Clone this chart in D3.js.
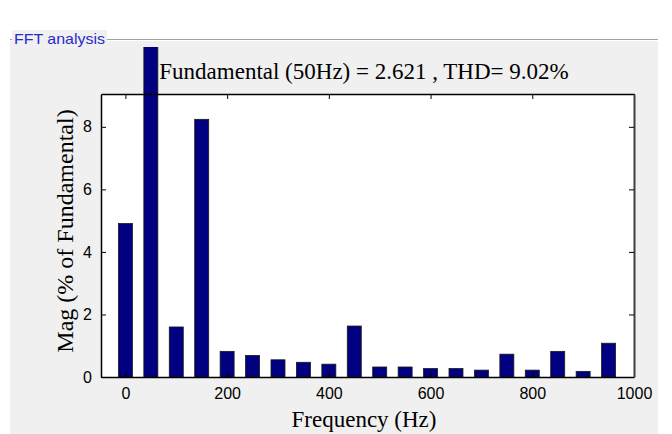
<!DOCTYPE html>
<html><head><meta charset="utf-8">
<script src="https://cdn.jsdelivr.net/npm/d3@7"></script>
<style>
html,body{margin:0;padding:0;background:#fff;}
svg{display:block;}
</style></head>
<body>
<svg id="chart" width="672" height="434"></svg>
<script>
// ---- data ----
const frequencies = [0,50,100,150,200,250,300,350,400,450,500,550,600,650,700,750,800,850,900,950];
const magnitudes  = [4.91,100,1.60,8.24,0.82,0.69,0.55,0.47,0.41,1.63,0.32,0.32,0.27,0.27,0.22,0.73,0.22,0.82,0.18,1.08];
const xTicks = [0,200,400,600,800,1000];
const yTicks = [0,2,4,6,8];
const titleText = "Fundamental (50Hz) = 2.621 , THD= 9.02%";
const xLabel = "Frequency (Hz)";
const yLabel = "Mag (% of Fundamental)";
const panelTitle = "FFT analysis";

const svg = d3.select("#chart");
const W = 672, H = 434;
const panel = {x0: 10, x1: 658, y0: 39};
const plot = {l: 101, r: 634, t: 94, b: 377};

// panel background
svg.append("rect").attr("x", panel.x0).attr("y", panel.y0).attr("width", panel.x1 - panel.x0).attr("height", H - panel.y0).attr("fill", "#f0f0f0");
// etched top border
svg.append("line").attr("x1", panel.x0).attr("x2", panel.x1).attr("y1", panel.y0 + 0.5).attr("y2", panel.y0 + 0.5).attr("stroke", "#a0a0a0");
svg.append("line").attr("x1", panel.x0).attr("x2", panel.x1).attr("y1", panel.y0 + 1.5).attr("y2", panel.y0 + 1.5).attr("stroke", "#ffffff");
// panel title
const pt = svg.append("text").attr("x", 14).attr("y", panel.y0 + 5).attr("font-family", "'Liberation Sans', Arial, sans-serif")
  .attr("font-size", 15).attr("textLength", 91).attr("lengthAdjust", "spacingAndGlyphs").attr("fill", "#2a2acc").text(panelTitle);
const bb = pt.node().getBBox();
svg.insert("rect", "text").attr("x", bb.x - 2).attr("y", bb.y).attr("width", bb.width + 4).attr("height", bb.height).attr("fill", "#f0f0f0");

// scales
const x = d3.scaleLinear().domain([-48, 1000]).range([plot.l, plot.r]);
const y = d3.scaleLinear().domain([0, 9.05]).range([plot.b, plot.t]);

// plot area
svg.append("rect").attr("x", plot.l).attr("y", plot.t).attr("width", plot.r - plot.l).attr("height", plot.b - plot.t).attr("fill", "#ffffff");

// clip for bars (fundamental bar runs above the axes up to the panel)
svg.append("clipPath").attr("id", "barclip").append("rect")
  .attr("x", plot.l).attr("y", 47).attr("width", plot.r - plot.l).attr("height", plot.b - 47);

const step = x(50) - x(0);
const bw = step * 0.55;
svg.append("g").attr("clip-path", "url(#barclip)")
  .selectAll("rect").data(frequencies).join("rect")
  .attr("x", (d) => x(d) - bw / 2)
  .attr("y", (d, i) => y(magnitudes[i]))
  .attr("width", bw)
  .attr("height", (d, i) => y(0) - y(magnitudes[i]))
  .attr("fill", "#000080")
  .attr("stroke", "#1a1a1a").attr("stroke-width", 0.8);

// axes
const fontSans = "'Liberation Sans', Arial, sans-serif";
const xAxis = svg.append("g").attr("transform", `translate(0,${plot.b})`)
  .call(d3.axisBottom(x).tickValues(xTicks).tickSizeInner(-5).tickSizeOuter(0).tickPadding(11).tickFormat(d3.format("d")));
const xAxisTop = svg.append("g").attr("transform", `translate(0,${plot.t})`)
  .call(d3.axisTop(x).tickValues(xTicks).tickSizeInner(-5).tickSizeOuter(0).tickFormat(""));
const yAxis = svg.append("g").attr("transform", `translate(${plot.l},0)`)
  .call(d3.axisLeft(y).tickValues(yTicks).tickSizeInner(-5).tickSizeOuter(0).tickPadding(9).tickFormat(d3.format("d")));
const yAxisR = svg.append("g").attr("transform", `translate(${plot.r},0)`)
  .call(d3.axisRight(y).tickValues(yTicks).tickSizeInner(-5).tickSizeOuter(0).tickFormat(""));

[xAxis, xAxisTop, yAxis, yAxisR].forEach(g => {
  g.selectAll("text").attr("font-family", fontSans).attr("font-size", 16).attr("fill", "#000");
  g.selectAll(".tick line").attr("stroke", "#000");
  g.select(".domain").attr("stroke", "#000").attr("stroke-width", 1.5);
});
yAxisR.select(".domain").attr("stroke", "#404040").attr("stroke-width", 2);

// labels
const fontSerif = "'Liberation Serif', 'Times New Roman', serif";
svg.append("text").attr("x", 364).attr("y", 79).attr("text-anchor", "middle")
  .attr("font-family", fontSerif).attr("font-size", 23).attr("fill", "#000").text(titleText);
svg.append("text").attr("x", 364).attr("y", 427).attr("text-anchor", "middle")
  .attr("font-family", fontSerif).attr("font-size", 23).attr("fill", "#000").text(xLabel);
svg.append("text").attr("transform", `translate(73,231) rotate(-90)`).attr("text-anchor", "middle")
  .attr("font-family", fontSerif).attr("font-size", 24).attr("fill", "#000").text(yLabel);
</script>
</body></html>
